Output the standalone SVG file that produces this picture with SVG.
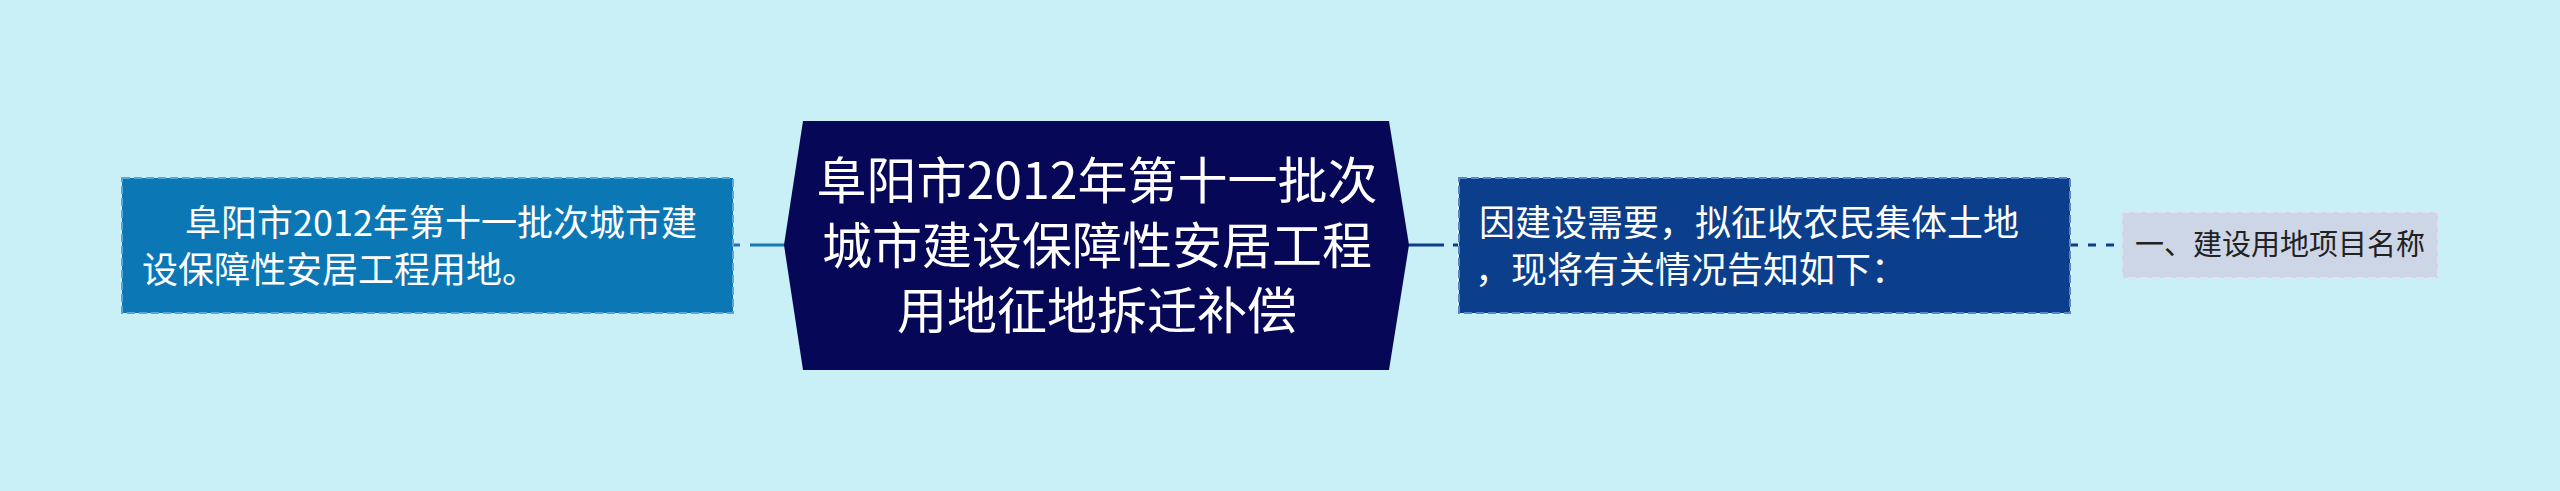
<svg xmlns="http://www.w3.org/2000/svg" width="2560" height="491" viewBox="0 0 2560 491">
<style>
.t{font-family:"Noto Sans CJK SC","Noto Sans",sans-serif;fill:#ffffff}
.d{font-family:"Noto Sans CJK SC","Noto Sans",sans-serif;fill:#222222}
.conn{fill:none;stroke-width:3}
</style>
<rect width="2560" height="491" fill="#c9eff7"/>
<g id="connectors">
<line class="conn" x1="786" y1="245" x2="733" y2="245" stroke="#1b78b6" stroke-dasharray="36 10"/>
<line class="conn" x1="1407" y1="245" x2="1458" y2="245" stroke="#0b3f8c" stroke-dasharray="37 9"/>
<line class="conn" x1="2070" y1="245" x2="2122" y2="245" stroke="#0b3f8c" stroke-dasharray="8 10"/>
</g>
<g id="node-center">
<polygon points="803,121 1389,121 1409,245 1389,370 803,370 784,245" fill="#070757"/>
<text class="t" font-size="50" text-anchor="middle" x="1097" y="199">阜阳市2012年第十一批次</text>
<text class="t" font-size="50" text-anchor="middle" x="1097" y="264">城市建设保障性安居工程</text>
<text class="t" font-size="50" text-anchor="middle" x="1097" y="329">用地征地拆迁补偿</text>
</g>
<g id="node-left">
<rect x="122" y="178" width="611" height="135" fill="#0b77b5" stroke="#5aa6d6" stroke-width="2" stroke-dasharray="8 4"/>
<text class="t" font-size="36" x="185" y="236">阜阳市2012年第十一批次城市建</text>
<text class="t" font-size="36" x="142" y="283">设保障性安居工程用地。</text>
</g>
<g id="node-right">
<rect x="1459" y="178" width="611" height="135" fill="#0b3f8c" stroke="#5a86c4" stroke-width="2" stroke-dasharray="8 4"/>
<text class="t" font-size="36" x="1479" y="236">因建设需要，拟征收农民集体土地</text>
<text class="t" font-size="36" x="1475" y="283">，现将有关情况告知如下：</text>
</g>
<g id="node-far-right">
<rect x="2122" y="212" width="316" height="66" fill="#cdd6e6" stroke="#dde4ee" stroke-width="2" stroke-dasharray="8 4"/>
<text class="d" font-size="29" x="2135" y="255">一、建设用地项目名称</text>
</g>
</svg>
